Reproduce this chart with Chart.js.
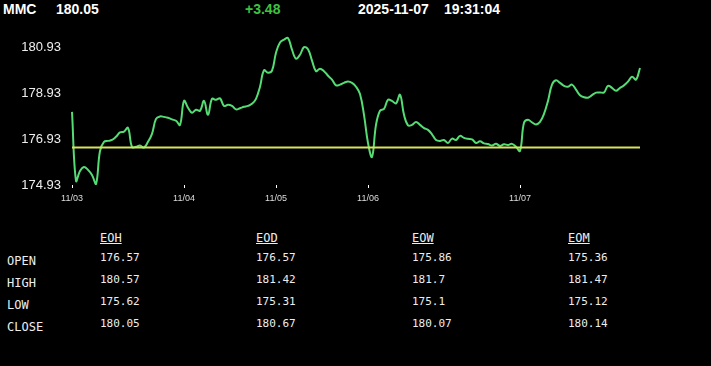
<!DOCTYPE html>
<html>
<head>
<meta charset="utf-8">
<script src="https://cdn.jsdelivr.net/npm/chart.js@4/dist/chart.umd.min.js"></script>
<style>
  body { margin: 0; background: #000; width: 711px; height: 366px; overflow: hidden; position: relative; }
  .hdr { position: absolute; top: 1px; font: bold 14px "Liberation Sans", Arial, sans-serif; color: #fff; white-space: nowrap; }
  #chart { position: absolute; left: 0; top: 1px; }
  .cell { position: absolute; font-family: "DejaVu Sans Mono", monospace; color: #eee; white-space: nowrap; line-height: 14px; }
  .rowname { font-size: 12px; }
  .val { font-size: 11px; }
  .colhead { font-size: 12px; text-decoration: underline; }
</style>
</head>
<body>
<span class="hdr" style="left:3px">MMC</span>
<span class="hdr" id="lastPrice" style="left:56px"></span>
<span class="hdr" id="change" style="left:245px;color:#3fc23f"></span>
<span class="hdr" style="left:358px">2025-11-07</span>
<span class="hdr" style="left:444px">19:31:04</span>
<canvas id="chart" width="711" height="212"></canvas>
<div id="table"></div>
<script>
const SYMBOL_OPEN = 176.57;
const SYMBOL_LAST = 180.05;

// one point every few minutes of trading, 11/03 - 11/07
const prices = [
  178.13, 175.11, 175.54, 175.72, 175.59, 175.37, 174.97, 176.42, 176.82, 176.86,
  176.90, 177.04, 177.23, 177.27, 177.43, 176.60, 176.60, 176.66, 176.57, 176.82,
  177.17, 177.82, 177.93, 177.91, 177.87, 177.80, 177.74, 177.56, 178.61, 178.31,
  178.09, 178.22, 178.18, 178.61, 178.00, 178.70, 178.66, 178.72, 178.39, 178.44,
  178.39, 178.24, 178.29, 178.35, 178.39, 178.48, 178.70, 179.23, 179.95, 179.84,
  179.93, 180.72, 181.16, 181.29, 181.36, 180.85, 180.46, 180.63, 180.96, 180.87,
  180.37, 179.91, 180.02, 179.91, 179.71, 179.54, 179.29, 179.32, 179.40, 179.46,
  179.40, 179.23, 178.91, 178.00, 176.77, 176.16, 177.56, 178.18, 178.26, 178.66,
  178.61, 178.50, 178.88, 178.00, 177.54, 177.56, 177.69, 177.56, 177.42, 177.34,
  177.15, 176.90, 176.86, 176.90, 176.77, 176.96, 176.90, 177.08, 176.99, 176.95,
  176.93, 176.77, 176.84, 176.75, 176.72, 176.66, 176.73, 176.64, 176.71, 176.68,
  176.73, 176.60, 176.42, 177.65, 177.78, 177.67, 177.58, 177.69, 178.04, 178.61,
  179.32, 179.51, 179.40, 179.27, 179.23, 179.32, 179.10, 178.86, 178.77, 178.75,
  178.86, 178.97, 178.98, 178.98, 179.27, 179.18, 179.05, 179.18, 179.29, 179.45,
  179.67, 179.54, 180.05
];

// day label -> index of the point where that day starts
const dayTicks = { 0: '11/03', 28: '11/04', 51: '11/05', 74: '11/06', 112: '11/07' };
const yTicks = [174.93, 176.93, 178.93, 180.93];

const periods = ['EOH', 'EOD', 'EOW', 'EOM'];
const rowNames = ['OPEN', 'HIGH', 'LOW', 'CLOSE'];
const openVals  = ['176.57', '176.57', '175.86', '175.36'];
const highVals  = ['180.57', '181.42', '181.7', '181.47'];
const lowVals   = ['175.62', '175.31', '175.1', '175.12'];
const closeVals = ['180.05', '180.67', '180.07', '180.14'];

document.getElementById('lastPrice').textContent = SYMBOL_LAST.toFixed(2);
document.getElementById('change').textContent = '+' + (SYMBOL_LAST - SYMBOL_OPEN).toFixed(2);

const labels = prices.map((p, i) => dayTicks[i] || '');

new Chart(document.getElementById('chart'), {
  type: 'line',
  data: {
    labels: labels,
    datasets: [
      {
        data: labels.map(() => SYMBOL_OPEN),
        borderColor: '#d8e35a',
        borderWidth: 2,
        pointRadius: 0,
        order: 0
      },
      {
        data: prices,
        borderColor: '#55dc74',
        borderWidth: 2,
        pointRadius: 0,
        tension: 0.4,
        order: 1
      }
    ]
  },
  options: {
    responsive: false,
    animation: false,
    layout: { padding: { top: 24, right: 71, left: 0, bottom: 0 } },
    plugins: { legend: { display: false }, tooltip: { enabled: false } },
    scales: {
      x: {
        afterFit: s => { s.height = 28; },
        border: { display: false },
        grid: {
          drawOnChartArea: false,
          drawTicks: true,
          tickLength: 3,
          color: ctx => (ctx.tick && ctx.tick.label) ? '#ffffff' : 'rgba(0,0,0,0)'
        },
        ticks: {
          autoSkip: false,
          maxRotation: 0,
          padding: 5,
          color: '#dddddd',
          font: { family: 'Liberation Sans, Arial, sans-serif', size: 9 }
        }
      },
      y: {
        min: 174.93,
        max: 181.93,
        afterFit: s => { s.width = 72; },
        afterBuildTicks: s => { s.ticks = yTicks.map(v => ({ value: v })); },
        border: { display: false },
        grid: { display: false, drawTicks: false },
        ticks: {
          padding: 11,
          color: '#eeeeee',
          font: { family: 'Liberation Sans, Arial, sans-serif', size: 13 },
          callback: v => Number(v).toFixed(2)
        }
      }
    }
  }
});

// summary table
const table = document.getElementById('table');
const colX = [100, 256, 412, 568];
const rowY = [251, 273, 295, 317];
function addCell(cls, text, x, y) {
  const d = document.createElement('div');
  d.className = 'cell ' + cls;
  d.textContent = text;
  d.style.left = x + 'px';
  d.style.top = y + 'px';
  table.appendChild(d);
}
periods.forEach((p, i) => addCell('colhead', p, colX[i], 231));
rowNames.forEach((r, i) => addCell('rowname', r, 7, rowY[i] + 3));
[openVals, highVals, lowVals, closeVals].forEach((row, r) => {
  row.forEach((v, c) => addCell('val', v, colX[c], rowY[r]));
});
</script>
</body>
</html>
